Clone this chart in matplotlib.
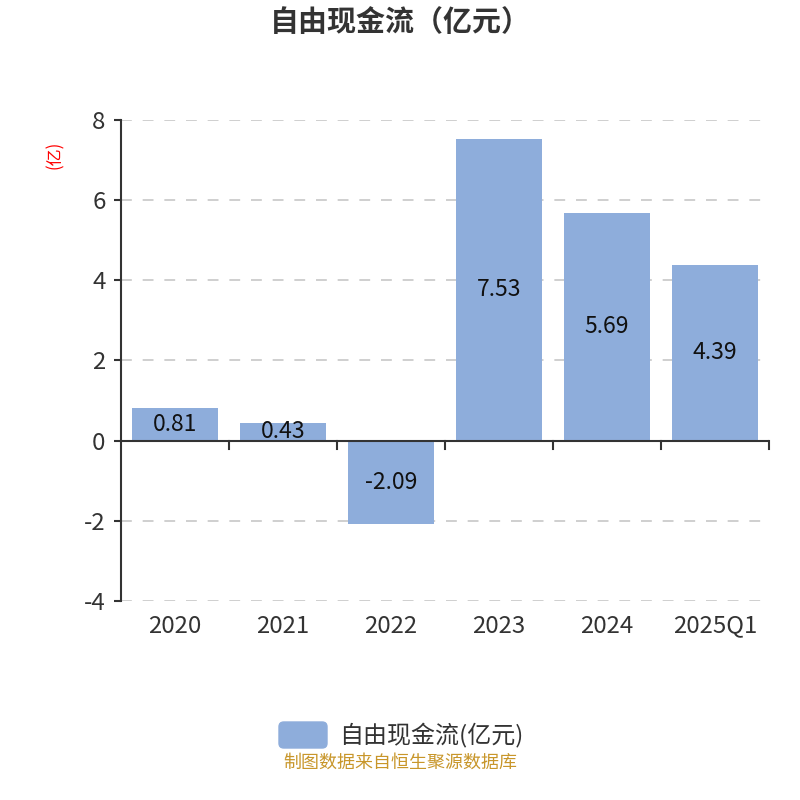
import matplotlib.pyplot as plt
from matplotlib.patches import FancyBboxPatch

plt.rcParams['font.family'] = ['Noto Sans CJK SC', 'DejaVu Sans']

categories = ['2020', '2021', '2022', '2023', '2024', '2025Q1']
values = [0.81, 0.43, -2.09, 7.53, 5.69, 4.39]
y_ticks = [-4, -2, 0, 2, 4, 6, 8]

bar_color = '#8eaddb'
px = 0.72  # pixels -> points at dpi 100

fig = plt.figure(figsize=(8, 8), dpi=100)
ax = fig.add_axes([0.151, 0.249, 0.81, 0.601])

x = list(range(len(categories)))
ax.bar(x, values, width=0.8, color=bar_color, zorder=3)
for xi, v in zip(x, values):
    ax.text(xi, v / 2, f'{v:.2f}', ha='center', va='center', fontsize=23 * px,
            color='#111111', zorder=4)

ax.set_xlim(-0.5, len(categories) - 0.5)
ax.set_ylim(-4, 8)
ax.set_yticks(y_ticks)
ax.set_yticklabels([str(t) for t in y_ticks])
ax.set_xticks(x)
ax.set_xticklabels(categories)
ax.tick_params(axis='x', length=0, pad=10, labelsize=24 * px, labelcolor='#333333')
ax.tick_params(axis='y', length=5, width=1.5, color='#333333', pad=6,
               labelsize=24 * px, labelcolor='#333333')

ax.grid(axis='y', linestyle=(0, (6, 6)), color='#cccccc', linewidth=1.3, zorder=0)
for s in ['top', 'right', 'bottom']:
    ax.spines[s].set_visible(False)
ax.spines['left'].set_color('#333333')
ax.spines['left'].set_linewidth(1.5)

# x axis line sits on zero with ticks at category boundaries
ax.axhline(0, color='#333333', linewidth=1.5, zorder=5)
for b in range(1, len(categories) + 1):
    ax.plot([b - 0.5, b - 0.5], [0, -0.2], color='#333333', linewidth=1.5,
            zorder=5, clip_on=False)

fig.text(0.069, 0.806, '(亿)', color='red', fontsize=17 * px, rotation=90,
         ha='center', va='center')

fig.text(0.5, 0.972, '自由现金流（亿元）', ha='center', va='center',
         fontsize=29 * px, fontweight='bold', color='#333333')

# legend
fig.patches.append(FancyBboxPatch((279 / 800, 1 - 748 / 800), 48 / 800, 26 / 800,
                                  boxstyle='round,pad=0,rounding_size=0.006',
                                  transform=fig.transFigure, color=bar_color))
fig.text(339 / 800, 1 - 735 / 800, '自由现金流(亿元)', ha='left', va='center',
         fontsize=24 * px, color='#333333')

fig.text(0.5, 1 - 763 / 800, '制图数据来自恒生聚源数据库', ha='center', va='center',
         fontsize=18 * px, color='#c8962a')

fig.savefig('out.png', dpi=100)
